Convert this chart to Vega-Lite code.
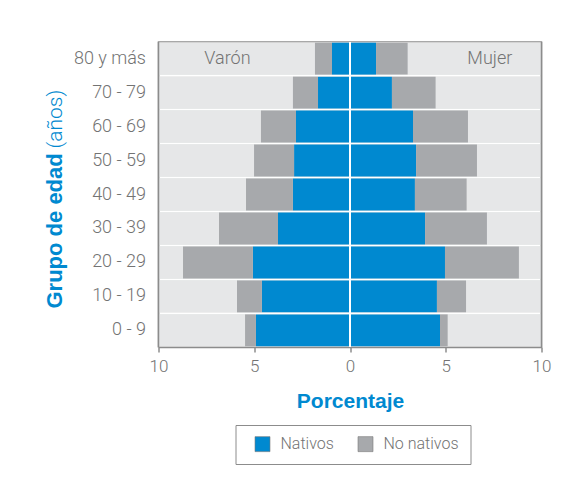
{
  "$schema": "https://vega.github.io/schema/vega-lite/v6.json",
  "autosize": {"type": "none"},
  "padding": {"left": 158.5, "top": 42, "right": 33, "bottom": 144},
  "width": 383,
  "height": 305,
  "background": "white",
  "config": {
    "font": "Roboto",
    "view": {"stroke": "#8c8c8c", "strokeWidth": 1.5},
    "axis": {"labelColor": "#737373", "labelFontSize": 17, "labelFontWeight": 300, "grid": false}
  },
  "datasets": {
    "pob": [
      {"edad": "80 y más", "sexo": "Varón", "tipo": "Nativos", "valor": -0.94},
      {"edad": "80 y más", "sexo": "Varón", "tipo": "No nativos", "valor": -0.89},
      {"edad": "80 y más", "sexo": "Mujer", "tipo": "Nativos", "valor": 1.36},
      {"edad": "80 y más", "sexo": "Mujer", "tipo": "No nativos", "valor": 1.65},
      {"edad": "70 - 79", "sexo": "Varón", "tipo": "Nativos", "valor": -1.67},
      {"edad": "70 - 79", "sexo": "Varón", "tipo": "No nativos", "valor": -1.31},
      {"edad": "70 - 79", "sexo": "Mujer", "tipo": "Nativos", "valor": 2.19},
      {"edad": "70 - 79", "sexo": "Mujer", "tipo": "No nativos", "valor": 2.28},
      {"edad": "60 - 69", "sexo": "Varón", "tipo": "Nativos", "valor": -2.82},
      {"edad": "60 - 69", "sexo": "Varón", "tipo": "No nativos", "valor": -1.83},
      {"edad": "60 - 69", "sexo": "Mujer", "tipo": "Nativos", "valor": 3.29},
      {"edad": "60 - 69", "sexo": "Mujer", "tipo": "No nativos", "valor": 2.87},
      {"edad": "50 - 59", "sexo": "Varón", "tipo": "Nativos", "valor": -2.92},
      {"edad": "50 - 59", "sexo": "Varón", "tipo": "No nativos", "valor": -2.09},
      {"edad": "50 - 59", "sexo": "Mujer", "tipo": "Nativos", "valor": 3.45},
      {"edad": "50 - 59", "sexo": "Mujer", "tipo": "No nativos", "valor": 3.18},
      {"edad": "40 - 49", "sexo": "Varón", "tipo": "Nativos", "valor": -2.98},
      {"edad": "40 - 49", "sexo": "Varón", "tipo": "No nativos", "valor": -2.45},
      {"edad": "40 - 49", "sexo": "Mujer", "tipo": "Nativos", "valor": 3.39},
      {"edad": "40 - 49", "sexo": "Mujer", "tipo": "No nativos", "valor": 2.70},
      {"edad": "30 - 39", "sexo": "Varón", "tipo": "Nativos", "valor": -3.76},
      {"edad": "30 - 39", "sexo": "Varón", "tipo": "No nativos", "valor": -3.08},
      {"edad": "30 - 39", "sexo": "Mujer", "tipo": "Nativos", "valor": 3.92},
      {"edad": "30 - 39", "sexo": "Mujer", "tipo": "No nativos", "valor": 3.23},
      {"edad": "20 - 29", "sexo": "Varón", "tipo": "Nativos", "valor": -5.07},
      {"edad": "20 - 29", "sexo": "Varón", "tipo": "No nativos", "valor": -3.65},
      {"edad": "20 - 29", "sexo": "Mujer", "tipo": "Nativos", "valor": 4.96},
      {"edad": "20 - 29", "sexo": "Mujer", "tipo": "No nativos", "valor": 3.86},
      {"edad": "10 - 19", "sexo": "Varón", "tipo": "Nativos", "valor": -4.60},
      {"edad": "10 - 19", "sexo": "Varón", "tipo": "No nativos", "valor": -1.30},
      {"edad": "10 - 19", "sexo": "Mujer", "tipo": "Nativos", "valor": 4.54},
      {"edad": "10 - 19", "sexo": "Mujer", "tipo": "No nativos", "valor": 1.52},
      {"edad": "0 - 9", "sexo": "Varón", "tipo": "Nativos", "valor": -4.91},
      {"edad": "0 - 9", "sexo": "Varón", "tipo": "No nativos", "valor": -0.57},
      {"edad": "0 - 9", "sexo": "Mujer", "tipo": "Nativos", "valor": 4.70},
      {"edad": "0 - 9", "sexo": "Mujer", "tipo": "No nativos", "valor": 0.40}
    ],
    "etiquetas": [
      {"etiqueta": "Varón", "pos": -6.4, "edad": "80 y más"},
      {"etiqueta": "Mujer", "pos": 7.3, "edad": "80 y más"}
    ],
    "bordes": [
      {"pos": -10},
      {"pos": 10}
    ]
  },
  "layer": [
    {
      "data": {"name": "pob"},
      "mark": {"type": "bar", "color": "#e6e7e8"},
      "encoding": {
        "y": {
          "field": "edad", "type": "nominal",
          "sort": ["80 y más", "70 - 79", "60 - 69", "50 - 59", "40 - 49", "30 - 39", "20 - 29", "10 - 19", "0 - 9"],
          "scale": {"paddingInner": 0.06, "paddingOuter": 0.02},
          "axis": {
            "orient": "left", "ticks": false, "domain": false, "labelPadding": 13, "labelFontSize": 18,
            "title": "Grupo de edad", "titleColor": "#0089d0", "titleFont": "Liberation Sans",
            "titleFontSize": 22, "titleFontWeight": "bold", "titleAngle": -90,
            "titleAlign": "left", "titleBaseline": "middle", "titleX": -104, "titleY": 266
          }
        },
        "x": {
          "datum": -10, "type": "quantitative",
          "scale": {"domain": [-10, 10], "nice": false},
          "axis": {
            "values": [-10, -5, 0, 5, 10], "labelExpr": "abs(datum.value)",
            "domain": true, "domainColor": "#8c8c8c", "domainWidth": 1.5,
            "ticks": true, "tickColor": "#8c8c8c", "tickSize": 5, "tickWidth": 1.5,
            "labelPadding": 6, "labelFlush": false,
            "title": "Porcentaje", "titleColor": "#0089d0", "titleFont": "Liberation Sans",
            "titleFontSize": 21, "titleFontWeight": "bold", "titleBaseline": "alphabetic", "titleY": 60
          }
        },
        "x2": {"datum": 10}
      }
    },
    {
      "data": {"name": "pob"},
      "mark": {"type": "bar"},
      "encoding": {
        "y": {
          "field": "edad", "type": "nominal",
          "sort": ["80 y más", "70 - 79", "60 - 69", "50 - 59", "40 - 49", "30 - 39", "20 - 29", "10 - 19", "0 - 9"],
          "axis": {
            "orient": "left", "ticks": false, "domain": false, "labels": false,
            "title": "(años)", "titleColor": "#0089d0", "titleFont": "Roboto",
            "titleFontSize": 21, "titleFontWeight": 300, "titleAngle": -90,
            "titleAlign": "left", "titleBaseline": "middle", "titleX": -103, "titleY": 106
          }
        },
        "x": {"field": "valor", "type": "quantitative", "stack": "zero", "title": "Porcentaje"},
        "color": {
          "field": "tipo", "type": "nominal",
          "scale": {"domain": ["Nativos", "No nativos"], "range": ["#0089d0", "#a7a9ac"]},
          "legend": {
            "title": null, "orient": "none", "direction": "horizontal",
            "legendX": 77, "legendY": 383,
            "strokeColor": "#8c8c8c", "padding": 11, "fillColor": "white",
            "symbolType": "square", "symbolSize": 225, "symbolOffset": 8,
            "symbolStrokeColor": "#7a7a7a", "symbolStrokeWidth": 0.6,
            "labelFontSize": 16, "labelColor": "#737373", "labelFontWeight": 300,
            "labelOffset": 10, "columnPadding": 15
          }
        },
        "order": {"field": "tipo", "sort": "ascending"}
      }
    },
    {
      "data": {"name": "pob"},
      "mark": {"type": "rule", "color": "white", "strokeWidth": 1.5},
      "encoding": {"x": {"datum": 0, "type": "quantitative"}}
    },
    {
      "data": {"name": "bordes"},
      "mark": {"type": "rule", "color": "#8c8c8c", "strokeWidth": 1.5},
      "encoding": {"x": {"field": "pos", "type": "quantitative"}}
    },
    {
      "data": {"name": "etiquetas"},
      "mark": {"type": "text", "fontSize": 18, "fontWeight": 300, "color": "#737373", "baseline": "middle"},
      "encoding": {
        "x": {"field": "pos", "type": "quantitative"},
        "y": {"field": "edad", "type": "nominal", "axis": null,
              "sort": ["80 y más", "70 - 79", "60 - 69", "50 - 59", "40 - 49", "30 - 39", "20 - 29", "10 - 19", "0 - 9"]},
        "text": {"field": "etiqueta"}
      }
    }
  ],
  "resolve": {"axis": {"y": "independent"}}
}
